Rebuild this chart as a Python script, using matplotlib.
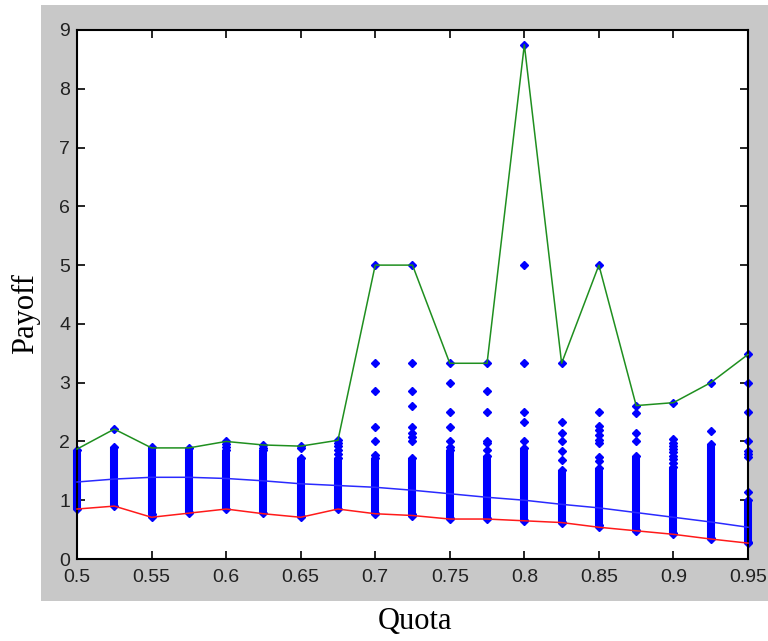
import matplotlib
matplotlib.use("Agg")
import matplotlib.pyplot as plt
from matplotlib.patches import Rectangle

quota = [0.5, 0.525, 0.55, 0.575, 0.6, 0.625, 0.65, 0.675, 0.7, 0.725,
         0.75, 0.775, 0.8, 0.825, 0.85, 0.875, 0.9, 0.925, 0.95]
max_payoff = [1.87, 2.21, 1.89, 1.89, 2.0, 1.94, 1.92, 2.02, 5.0, 5.0,
              3.33, 3.33, 8.75, 3.33, 5.0, 2.61, 2.66, 3.0, 3.48]
mean_payoff = [1.31, 1.36, 1.39, 1.39, 1.37, 1.33, 1.28, 1.25, 1.22, 1.17,
               1.11, 1.05, 1.0, 0.93, 0.87, 0.79, 0.71, 0.63, 0.54]
min_payoff = [0.85, 0.9, 0.71, 0.78, 0.85, 0.77, 0.71, 0.85, 0.77, 0.74,
              0.68, 0.68, 0.65, 0.62, 0.54, 0.48, 0.42, 0.34, 0.27]
# dense clusters of individual payoffs (upper / lower extent of the cluster)
cluster_hi = [1.85, 1.9, 1.9, 1.88, 1.85, 1.85, 1.72, 1.72, 1.72, 1.72,
              1.85, 1.75, 1.88, 1.52, 1.54, 1.75, 1.56, 1.95, 1.0]
cluster_lo = [0.85, 0.9, 0.76, 0.8, 0.85, 0.78, 0.74, 0.85, 0.79, 0.76,
              0.7, 0.7, 0.67, 0.63, 0.57, 0.5, 0.44, 0.36, 0.29]
# isolated individual payoffs
isolated = [
    [],
    [2.21],
    [0.74, 0.71],
    [0.78],
    [2.0, 1.95, 1.9],
    [1.94, 1.89],
    [1.92, 1.89, 0.71],
    [2.02, 1.97, 1.92, 1.85, 1.79],
    [5.0, 3.33, 2.86, 2.25, 2.0, 1.77, 0.77],
    [5.0, 3.33, 2.86, 2.6, 2.25, 2.14, 2.08, 2.0, 0.74],
    [3.33, 3.0, 2.5, 2.25, 2.0, 1.9, 0.68],
    [3.33, 2.86, 2.5, 2.0, 1.97, 1.85, 0.68],
    [8.75, 5.0, 3.33, 2.5, 2.33, 2.0, 0.65],
    [3.33, 2.33, 2.15, 2.0, 1.84, 1.68, 0.62],
    [5.0, 2.5, 2.27, 2.19, 2.11, 2.02, 1.97, 1.74, 1.67, 0.54],
    [2.61, 2.48, 2.15, 2.0, 0.48],
    [2.66, 2.04, 1.98, 1.92, 1.87, 1.82, 1.76, 1.7, 1.63, 0.42],
    [3.0, 2.18, 0.34],
    [3.48, 3.0, 2.5, 2.0, 1.84, 1.78, 1.74, 1.14, 0.27],
]
xticks = [0.5, 0.55, 0.6, 0.65, 0.7, 0.75, 0.8, 0.85, 0.9, 0.95]
xticklabels = ['0.5', '0.55', '0.6', '0.65', '0.7', '0.75', '0.8', '0.85', '0.9', '0.95']
yticks = list(range(0, 10))

W, H = 768, 641
fig = plt.figure(figsize=(W / 100, H / 100), dpi=100)
fig.patch.set_facecolor('white')
bg = Rectangle((41 / W, (H - 601) / H), 1 - 41 / W, (601 - 5) / H,
               transform=fig.transFigure, facecolor='#c8c8c8',
               edgecolor='none', zorder=-10)
fig.patches.append(bg)

ax = fig.add_axes([77 / W, (H - 559) / H, (748 - 77) / W, (559 - 30) / H])
ax.set_zorder(1)
ax.set_facecolor('white')
ax.set_xlim(0.5, 0.95)
ax.set_ylim(0, 9)

blue = '#0000ff'
ms = 4.0
ax.vlines(quota, cluster_lo, cluster_hi, colors=blue, linewidth=5.8,
          zorder=2, clip_on=False)
ax.plot(quota, cluster_hi, 'D', color=blue, markersize=ms, zorder=2, clip_on=False)
ax.plot(quota, cluster_lo, 'D', color=blue, markersize=ms, zorder=2, clip_on=False)
px = [q for q, vals in zip(quota, isolated) for _ in vals]
py = [v for vals in isolated for v in vals]
ax.plot(px, py, 'D', color=blue, markersize=ms, linestyle='none', zorder=2,
        clip_on=False)

ax.plot(quota, max_payoff, color='#1f8f1f', linewidth=1.1, zorder=3, clip_on=False)
ax.plot(quota, mean_payoff, color='#2a2aff', linewidth=1.1, zorder=3, clip_on=False)
ax.plot(quota, min_payoff, color='#ff1a1a', linewidth=1.1, zorder=3, clip_on=False)

ax.set_xticks(xticks)
ax.set_xticklabels(xticklabels)
ax.set_yticks(yticks)
ax.tick_params(direction='in', length=6, width=1.2, top=True, right=True,
               labelsize=14, colors='black')
ax.tick_params(axis='x', pad=7)
ax.tick_params(axis='y', pad=5)
for lab in ax.get_xticklabels() + ax.get_yticklabels():
    lab.set_family('Liberation Sans')
    lab.set_color('#222222')
for sp in ax.spines.values():
    sp.set_linewidth(1.5)
    sp.set_color('black')

fig.text(26 / W, 1 - 314 / H, 'Payoff', rotation=90, ha='center', va='center',
         fontsize=22, family='Liberation Serif', color='black')
fig.text(415 / W, 1 - 622 / H, 'Quota', ha='center', va='center',
         fontsize=22, family='Liberation Serif', color='black')

fig.savefig('out.png', dpi=100, facecolor='white')
